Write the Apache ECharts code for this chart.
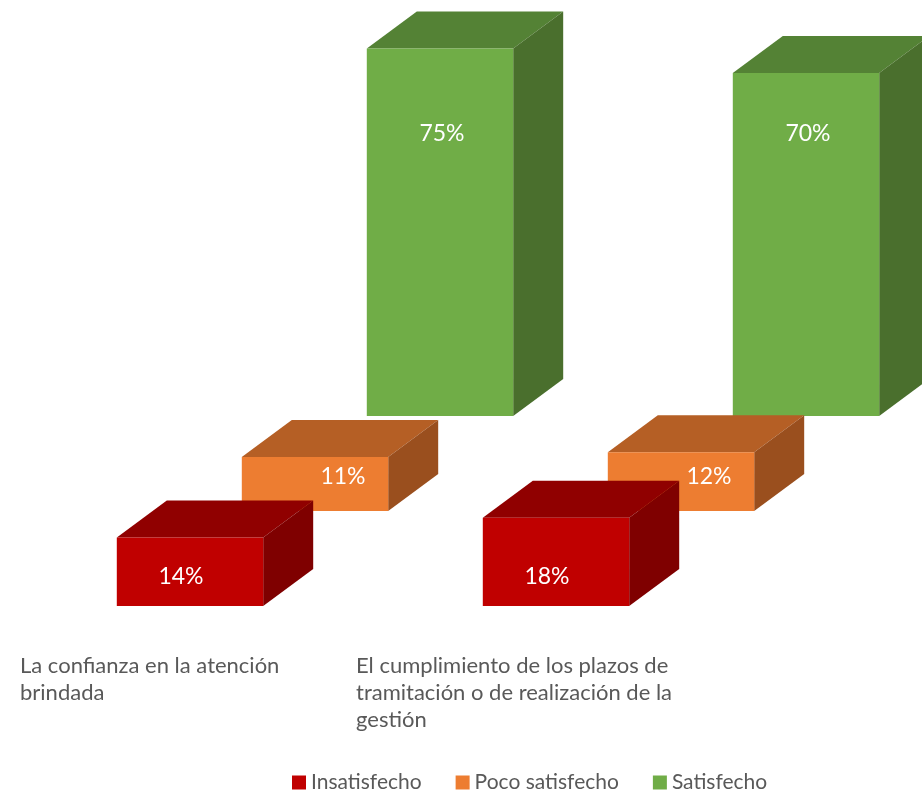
<!DOCTYPE html>
<html>
<head>
<meta charset="utf-8">
<script src="https://cdn.jsdelivr.net/npm/echarts@6/dist/echarts.min.js"></script>
<style>
  html, body { margin: 0; padding: 0; background: #fff; }
  #chart { width: 922px; height: 794px; }
</style>
</head>
<body>
<div id="chart"></div>
<script>
// datos
const categories = [
  "La confianza en la atención brindada",
  "El cumplimiento de los plazos de tramitación o de realización de la gestión"
];
const seriesNames = ["Insatisfecho", "Poco satisfecho", "Satisfecho"];
const insatisfecho = [14, 18];
const pocoSatisfecho = [11, 12];
const satisfecho = [75, 70];

// colores de cada cara: frontal, superior, lateral
const faces = [
  { front: "#C00000", top: "#900000", side: "#7F0000" },
  { front: "#ED7D31", top: "#B55F25", side: "#9A4F1E" },
  { front: "#70AD47", top: "#548235", side: "#4A6F2D" }
];
// posición de las etiquetas respecto a la base de la barra
const labelPos = [
  { dx: -9, dy: -29 },
  { dx: 28, dy: -34 },
  { dx: 2, dy: -282 }
];

const DX = 50, DY = -37;   // profundidad
const STEP_X = 125, STEP_Y = 95; // desplazamiento entre series

const chart = echarts.init(document.getElementById("chart"));

// partir el texto en líneas sin espacios sobrantes
const ctx = document.createElement("canvas").getContext("2d");
ctx.font = "22px Lato";
function wrap(text, maxW) {
  const lines = [];
  let line = "";
  text.split(" ").forEach(word => {
    const test = line ? line + " " + word : word;
    if (line && ctx.measureText(test).width > maxW) {
      lines.push(line);
      line = word;
    } else {
      line = test;
    }
  });
  if (line) lines.push(line);
  return lines.join("\n");
}

function makeRender(idx) {
  const f = faces[idx], lp = labelPos[idx];
  return function (params, api) {
    const x = api.value(0), v = api.value(1);
    const base = api.coord([x, 0]);
    const top = api.coord([x, v]);
    const w = api.size([1, 0])[0] * 0.4;
    const x0 = base[0] - w / 2, x1 = base[0] + w / 2;
    const yt = top[1], yb = base[1];
    return {
      type: "group",
      children: [
        {
          type: "polygon",
          shape: { points: [[x0, yt], [x1, yt], [x1 + DX, yt + DY], [x0 + DX, yt + DY]] },
          style: { fill: f.top }
        },
        {
          type: "polygon",
          shape: { points: [[x1, yt], [x1 + DX, yt + DY], [x1 + DX, yb + DY], [x1, yb]] },
          style: { fill: f.side }
        },
        {
          type: "rect",
          shape: { x: x0, y: yt, width: w, height: yb - yt },
          style: { fill: f.front }
        },
        {
          type: "text",
          style: {
            text: v + "%",
            x: base[0] + lp.dx,
            y: yb + lp.dy,
            align: "center",
            verticalAlign: "middle",
            fill: "#fff",
            font: "23px Lato"
          }
        }
      ]
    };
  };
}

const values = [insatisfecho, pocoSatisfecho, satisfecho];

const grids = [0, 1, 2].map(i => ({
  left: 7 + STEP_X * i,
  width: 732,
  top: 214 - STEP_Y * i,
  height: 392,
  outerBoundsMode: "none"
}));
grids.push({ left: 20, width: 336, top: 600, height: 50, outerBoundsMode: "none" });

const xAxes = [0, 1, 2].map(i => ({
  type: "category", gridIndex: i, data: categories, show: false
}));
xAxes.push({
  type: "category",
  gridIndex: 3,
  data: categories,
  boundaryGap: false,
  axisLine: { show: false },
  axisTick: { show: false },
  axisLabel: {
    align: "left",
    verticalAlign: "top",
    margin: 2,
    lineHeight: 27,
    fontSize: 22,
    fontFamily: "Lato",
    color: "#595959",
    interval: 0,
    formatter: v => wrap(v, 335)
  }
});

const yAxes = [0, 1, 2, 3].map(i => ({
  type: "value", gridIndex: i, min: 0, max: 80, show: false
}));

chart.setOption({
  animation: false,
  grid: grids,
  xAxis: xAxes,
  yAxis: yAxes,
  legend: {
    data: seriesNames,
    left: 287,
    top: 767,
    icon: "rect",
    itemWidth: 14,
    itemHeight: 14,
    itemGap: 34,
    textStyle: { fontSize: 21, fontFamily: "Lato", color: "#595959" }
  },
  series: [0, 1, 2].map(i => ({
    name: seriesNames[i],
    type: "custom",
    xAxisIndex: i,
    yAxisIndex: i,
    z: 10 - i,
    itemStyle: { color: faces[i].front },
    renderItem: makeRender(i),
    data: values[i].map((v, j) => [j, v])
  }))
});
</script>
</body>
</html>
